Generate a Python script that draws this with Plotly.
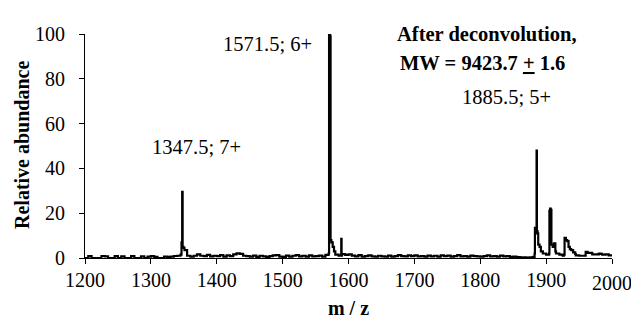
import plotly.graph_objects as go

# Baseline noise, sampled every 5 m/z from 1200 to 2000
base_start = 1200
base_step = 5
base_vals = [
    0.0, 0.8, 0.0, 0.0, 0.0, 0.9, 0.7, 0.0, 0.0, 0.8,
    0.0, 0.7, 0.0, 0.0, 0.8, 0.0, 0.0, 0.7, 0.0, 0.6,
    0.8, 0.5, 0.0, 0.0, 0.6, 0.5, 0.6, 0.9, 1.0, 1.5,
    3.0, 1.0, 0.6, 1.0, 1.6, 1.0, 0.8, 1.4, 0.7, 1.0,
    0.8, 1.3, 0.6, 1.2, 0.8, 1.6, 2.1, 1.8, 1.0, 0.8,
    0.6, 1.1, 0.5, 1.0, 0.7, 0.5, 0.8, 1.2, 1.3, 0.6,
    0.5, 1.1, 0.6, 1.0, 1.3, 0.7, 1.0, 0.6, 1.2, 0.7,
    0.8, 1.1, 0.6, 1.4, 1.2, 3.0, 1.5, 1.1, 1.7, 1.4,
    1.6, 1.1, 0.7, 1.3, 0.6, 0.8, 1.2, 0.7, 0.6, 1.0,
    0.7, 0.6, 1.1, 0.6, 0.8, 1.3, 0.8, 0.7, 1.2, 0.8,
    1.2, 0.7, 0.8, 0.6, 1.1, 0.7, 1.0, 0.6, 1.2, 0.8,
    1.1, 0.6, 0.8, 1.3, 0.7, 0.8, 0.6, 1.1, 0.8, 0.7,
    0.6, 0.8, 1.2, 0.7, 0.8, 0.6, 1.1, 0.7, 0.8, 0.5,
    0.6, 0.4, 0.3, 0.3, 0.2, 0.3, 0.5, 4.0, 3.0, 2.0,
    1.5, 3.0, 4.0, 2.0, 1.5, 1.0, 2.0, 3.0, 1.5, 1.2,
    1.0, 1.0, 1.3, 2.0, 1.5, 1.2, 1.0, 1.5, 1.6, 1.2,
    1.0,
]

# Peak clusters (m/z, relative abundance)
peak_clusters = [
    ([1346.5, 1347.0, 1347.5, 1348.2, 1349.5, 1351.0],
     [7.0, 6.0, 29.5, 5.0, 4.5, 3.5]),
    ([1569.8, 1570.5, 1571.0, 1571.5, 1572.2, 1572.8, 1574.0, 1576.0, 1578.0],
     [2.0, 99.5, 100.0, 100.0, 99.0, 8.0, 7.0, 5.0, 3.0]),
    ([1588.5, 1589.0, 1589.5],
     [1.0, 8.5, 1.0]),
    ([1882.5, 1883.0, 1884.0, 1885.0, 1885.5, 1886.0, 1887.0, 1888.0, 1890.0, 1892.0],
     [2.0, 13.5, 12.0, 11.0, 48.0, 12.0, 11.0, 6.0, 5.0, 3.0]),
    ([1904.5, 1905.0, 1906.0, 1907.0, 1908.0, 1910.0, 1912.0, 1914.0],
     [2.0, 21.0, 22.0, 21.5, 6.0, 5.0, 6.5, 3.0]),
    ([1927.0, 1928.0, 1930.0, 1932.0, 1934.0, 1936.0, 1938.0, 1941.0, 1944.0],
     [1.5, 9.0, 8.0, 7.5, 5.0, 4.0, 3.5, 2.5, 1.8]),
    ([1960.0, 1963.0, 1970.0, 1980.0, 1983.0],
     [2.8, 2.3, 1.6, 2.0, 1.8]),
]

x_ticks = [1200, 1300, 1400, 1500, 1600, 1700, 1800, 1900, 2000]
y_ticks = [0, 20, 40, 60, 80, 100]

x_title = "m / z"
y_title = "Relative abundance"
peak_texts = ["1347.5; 7+", "1571.5; 6+", "1885.5; 5+"]
title_lines = ["After deconvolution,", "MW = 9423.7 <u>+</u> 1.6"]

# Merge baseline with peaks
pts = []
ranges = [(min(c[0]), max(c[0])) for c in peak_clusters]
for i, v in enumerate(base_vals):
    mz = base_start + i * base_step
    if any(lo <= mz <= hi for lo, hi in ranges):
        continue
    pts.append((mz, v))
for xs, ys in peak_clusters:
    pts.extend(zip(xs, ys))
pts.sort()
mz_all = [p[0] for p in pts]
ab_all = [p[1] for p in pts]

FONT = "Liberation Serif"
AF = dict(family=FONT, size=20.5, color="black")
TF = dict(family=FONT, size=20, color="black")

fig = go.Figure()
fig.add_trace(go.Scatter(x=mz_all, y=ab_all, mode="lines", line_shape="hv",
                         line=dict(color="black", width=2.2), hoverinfo="skip"))

annotations = [
    dict(x=1370, y=49.6, xref="x", yref="y", text=peak_texts[0], showarrow=False, font=AF),
    dict(x=1477, y=95.5, xref="x", yref="y", text=peak_texts[1], showarrow=False, font=AF),
    dict(x=1840, y=72, xref="x", yref="y", text=peak_texts[2], showarrow=False, font=AF),
    dict(x=1810, y=(258 - 21) / 224, xref="x", yref="paper",
         text="<b>" + title_lines[0] + "</b>", showarrow=False, font=AF),
    dict(x=1804, y=(258 - 50) / 224, xref="x", yref="paper",
         text="<b>" + title_lines[1] + "</b>", showarrow=False, font=AF),
    # last x tick label sits at the page edge; drawn as annotation so it is not dropped
    dict(x=x_ticks[-1], y=(258 - 282.5) / 224, xref="x", yref="paper",
         text=str(x_ticks[-1]), showarrow=False, font=TF, yanchor="middle"),
    # y-axis title
    dict(x=(22 - 85) / 527, y=(258 - 145) / 224, xref="paper", yref="paper",
         text="<b>" + y_title + "</b>", textangle=-90, showarrow=False,
         font=TF, xanchor="center", yanchor="middle"),
]

fig.update_layout(
    width=631, height=320,
    margin=dict(l=85, r=19, t=34, b=62),
    paper_bgcolor="white", plot_bgcolor="white",
    showlegend=False,
    font=dict(family=FONT, size=20, color="black"),
    annotations=annotations,
    xaxis=dict(range=[1200, 2000], tickvals=x_ticks,
               ticktext=[str(v) for v in x_ticks[:-1]] + [""],
               ticks="outside", ticklen=5,
               tickcolor="black", showline=True, linecolor="black", linewidth=1,
               showgrid=False, zeroline=False, ticklabelstandoff=-1, automargin=False,
               tickfont=TF,
               title=dict(text="<b>" + x_title + "</b>", font=dict(family=FONT, size=20),
                          standoff=10)),
    yaxis=dict(range=[0, 100], tickvals=y_ticks, ticks="outside", ticklen=5,
               tickcolor="black", showline=True, linecolor="black", linewidth=1,
               showgrid=False, zeroline=False, ticklabelstandoff=10, automargin=False,
               tickfont=TF),
)

fig.write_html("out.html")
